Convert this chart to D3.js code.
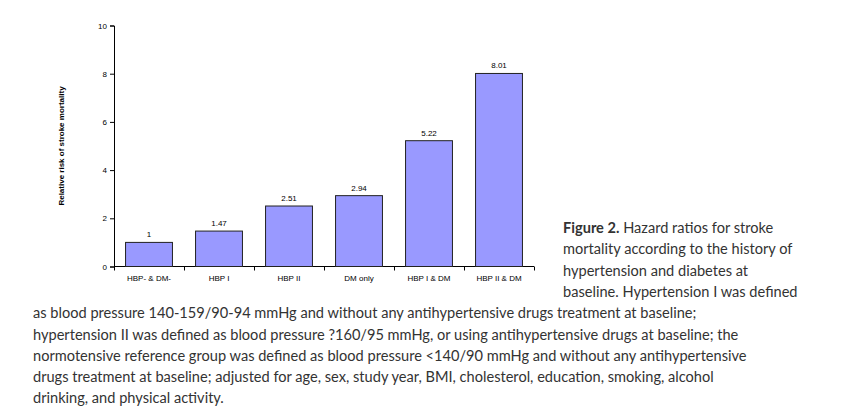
<!DOCTYPE html><html><head><meta charset="utf-8"><script src="https://cdn.jsdelivr.net/npm/d3@7"></script>
<style>body{margin:0;background:#fff}</style></head><body><svg id="c" width="859" height="417"></svg>
<script>
const categories=["HBP- & DM-","HBP I","HBP II","DM only","HBP I & DM","HBP II & DM"];
const values=[1,1.47,2.51,2.94,5.22,8.01];
const labels=["1","1.47","2.51","2.94","5.22","8.01"];
const yTicks=[0,2,4,6,8,10];
const captionLines=[
 [563,233,"Hazard ratios for stroke",true],
 [563,254,"mortality according to the history of"],
 [563,276,"hypertension and diabetes at"],
 [563,297,"baseline. Hypertension I was defined"],
 [33,318,"as blood pressure 140-159/90-94 mmHg and without any antihypertensive drugs treatment at baseline;"],
 [33,340,"hypertension II was defined as blood pressure ?160/95 mmHg, or using antihypertensive drugs at baseline; the"],
 [33,361,"normotensive reference group was defined as blood pressure <140/90 mmHg and without any antihypertensive"],
 [33,382,"drugs treatment at baseline; adjusted for age, sex, study year, BMI, cholesterol, education, smoking, alcohol"],
 [33,403,"drinking, and physical activity."]];
const svg=d3.select("#c");
const x=d3.scaleBand().domain(categories).range([114,534]).paddingInner(0.33).paddingOuter(0.165);
const y=d3.scaleLinear().domain([0,10]).range([266.5,25.5]);
const ax=svg.append("g").attr("font-family","Arial, Liberation Sans").attr("font-size",8);
ax.append("g").attr("transform","translate(114,0)").call(d3.axisLeft(y).tickValues(yTicks).tickSize(4).tickFormat(d3.format("d")))
 .call(g=>{g.select(".domain").attr("stroke","#000");g.selectAll("text").attr("fill","#000").attr("font-family","Arial, Liberation Sans").attr("font-size",8);});
const xa=d3.axisBottom(d3.scaleLinear().domain([0,6]).range([114,534])).ticks(6).tickSize(4).tickFormat("");
ax.append("g").attr("transform","translate(0,266.5)").call(xa).call(g=>g.select(".domain").attr("d","M114,0H534"));
ax.selectAll(".cat").data(categories).join("text").attr("x",d=>x(d)+x.bandwidth()/2).attr("y",281).attr("text-anchor","middle").text(d=>d);
svg.selectAll("rect.b").data(values).join("rect").attr("x",(d,i)=>x(categories[i])).attr("width",x.bandwidth())
 .attr("y",d=>y(d)).attr("height",d=>y(0)-y(d)).attr("fill","#9999ff").attr("stroke","#222").attr("stroke-width",1);
ax.selectAll(".v").data(values).join("text").attr("x",(d,i)=>x(categories[i])+x.bandwidth()/2).attr("y",d=>y(d)-5).attr("text-anchor","middle").text((d,i)=>labels[i]);
svg.append("text").attr("transform","translate(64,146) rotate(-90)").attr("text-anchor","middle").attr("font-family","Arial, Liberation Sans").attr("font-size",8).attr("font-weight","bold").text("Relative risk of stroke mortality");
const cap=svg.append("g").attr("font-family","Lato, sans-serif").attr("font-size",14.6).attr("fill","#333");
captionLines.forEach(l=>{const t=cap.append("text").attr("x",l[0]).attr("y",l[1]);
 if(l[3]){t.append("tspan").attr("font-weight","bold").text("Figure 2.");t.append("tspan").text(" "+l[2]);} else t.text(l[2]);});
</script></body></html>
